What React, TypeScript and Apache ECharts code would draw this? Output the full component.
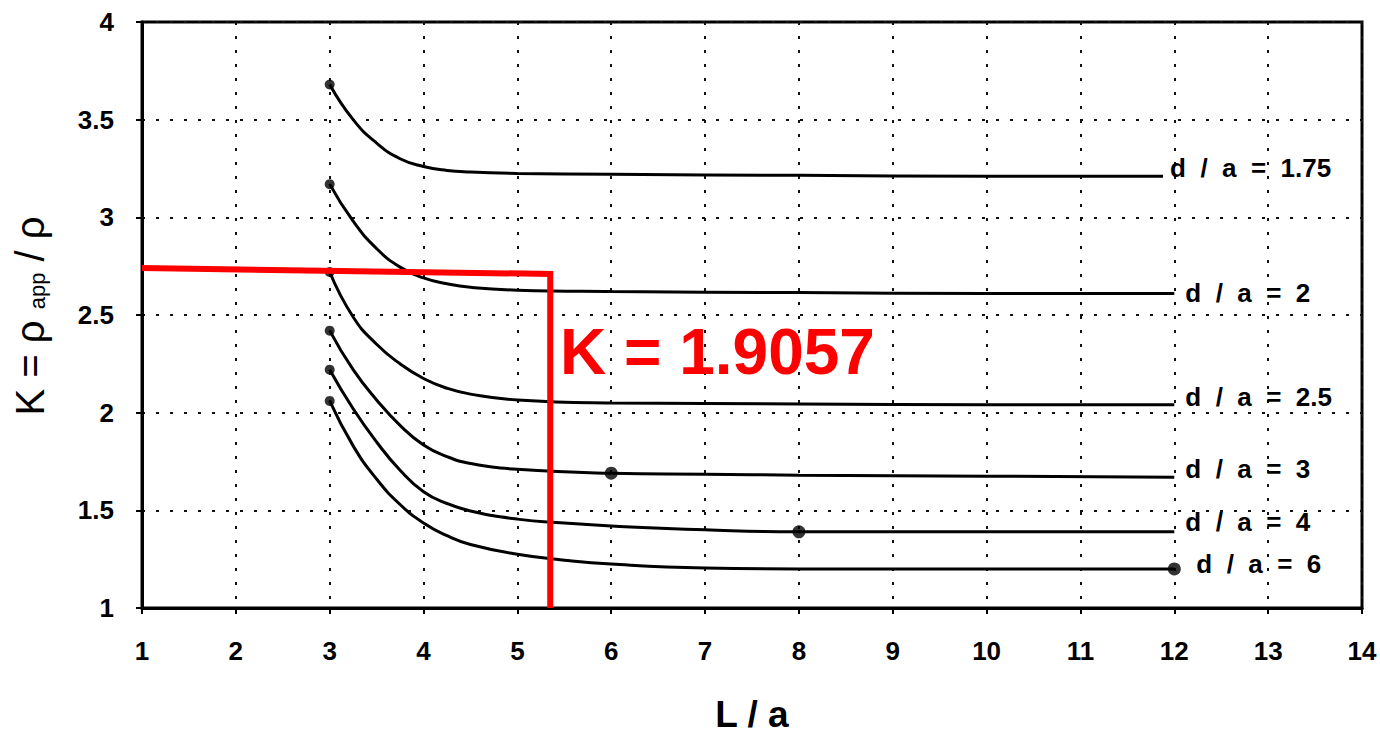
import React, { useEffect, useRef } from "react";
import * as echarts from "echarts";

// ---- data ----
const xTicks = { min: 1, max: 14, interval: 1 };
const yTicks = { min: 1, max: 4, interval: 0.5 };

const curveLabels = ["d  /  a  =  1.75", "d  /  a  =  2", "d  /  a  =  2.5", "d  /  a  =  3", "d  /  a  =  4", "d  /  a  =  6"];

const curve175 = [[3, 3.68], [3.25, 3.5], [3.5, 3.38], [3.75, 3.3], [4, 3.26], [4.25, 3.24], [4.5, 3.232], [5, 3.225], [6, 3.22], [8, 3.215], [10, 3.21], [11.88, 3.21]];
const curve2 = [[3, 3.17], [3.25, 2.98], [3.5, 2.84], [3.75, 2.745], [4, 2.69], [4.25, 2.66], [4.5, 2.642], [5, 2.627], [6, 2.62], [8, 2.615], [10, 2.61], [12, 2.61]];
const curve25 = [[3, 2.72], [3.25, 2.49], [3.5, 2.35], [3.75, 2.25], [4, 2.175], [4.25, 2.125], [4.5, 2.095], [5, 2.065], [6, 2.05], [8, 2.045], [10, 2.04], [12, 2.04]];
const curve3 = [[3, 2.42], [3.25, 2.22], [3.5, 2.065], [3.75, 1.935], [4, 1.835], [4.25, 1.775], [4.5, 1.74], [5, 1.71], [6, 1.69], [7, 1.685], [8, 1.68], [10, 1.675], [12, 1.67]];
const curve4 = [[3, 2.22], [3.25, 2.02], [3.5, 1.85], [3.75, 1.705], [4, 1.595], [4.25, 1.535], [4.5, 1.497], [5, 1.455], [5.5, 1.435], [6, 1.42], [7, 1.4], [8, 1.39], [10, 1.39], [12, 1.39]];
const curve6 = [[3, 2.06], [3.25, 1.83], [3.5, 1.66], [3.75, 1.53], [4, 1.435], [4.25, 1.37], [4.5, 1.325], [5, 1.275], [5.5, 1.245], [6, 1.225], [7, 1.205], [8, 1.2], [10, 1.2], [12, 1.2]];
const curves = [curve175, curve2, curve25, curve3, curve4, curve6];

const startDots = [[3, 3.68], [3, 3.17], [3, 2.72], [3, 2.42], [3, 2.22], [3, 2.06]];
const markerDots = [[6, 1.69], [8, 1.39], [12, 1.2]];

const redGuide = [[1, 2.74], [5.35, 2.71], [5.35, 1]];
const redText = "K = 1.9057";

// label placement (style)
const labelDistance = [7, 11, 11, 11, 11, 22];
const labelOffsetY = [-8, -1, -8, -8, -10, -5];

export default function App() {
  const ref = useRef<HTMLDivElement>(null);
  useEffect(() => {
    if (!ref.current) return;
    const chart = echarts.init(ref.current, null, { renderer: "svg" });
    const font = "'Liberation Sans', Arial, sans-serif";
    const lineSeries = curves.map((c, i) => ({
      type: "line",
      data: c,
      smooth: 0.5,
      showSymbol: false,
      symbol: "none",
      lineStyle: { color: "#000", width: 3 },
      endLabel: {
        show: true,
        formatter: curveLabels[i],
        distance: labelDistance[i],
        offset: [0, labelOffsetY[i]],
        color: "#000",
        fontSize: 26,
        fontWeight: "bold",
        fontFamily: font,
      },
      z: 3,
    }));
    chart.setOption({
      animation: false,
      backgroundColor: "#fff",
      grid: {
        left: 142, right: 18, top: 22, bottom: 126,
        show: true, borderColor: "#000", borderWidth: 3, backgroundColor: "transparent",
      },
      xAxis: {
        type: "value",
        min: xTicks.min, max: xTicks.max, interval: xTicks.interval,
        name: "L / a",
        nameLocation: "middle",
        nameGap: 88,
        nameTextStyle: { fontSize: 37, fontWeight: "bold", color: "#000", fontFamily: font },
        axisLine: { show: true, onZero: false, lineStyle: { color: "#000", width: 3 } },
        axisTick: { show: true, length: 6, lineStyle: { color: "#000", width: 2 } },
        axisLabel: { margin: 30, fontSize: 26, fontWeight: "bold", color: "#000", fontFamily: font },
        splitLine: { show: true, lineStyle: { color: "#111", width: 2, type: [3, 11] } },
      },
      yAxis: {
        type: "value",
        min: yTicks.min, max: yTicks.max, interval: yTicks.interval,
        axisLine: { show: true, onZero: false, lineStyle: { color: "#000", width: 3 } },
        axisTick: { show: true, length: 6, lineStyle: { color: "#000", width: 2 } },
        axisLabel: { margin: 28, fontSize: 26, fontWeight: "bold", color: "#000", fontFamily: font },
        splitLine: { show: true, lineStyle: { color: "#111", width: 2, type: [3, 11] } },
      },
      graphic: [
        {
          type: "text",
          x: 30,
          y: 316,
          rotation: Math.PI / 2,
          style: {
            text: "K = ρ {sub|app} / ρ",
            font: `40px ${font}`,
            fill: "#000",
            align: "center",
            verticalAlign: "middle",
            rich: { sub: { fontSize: 22, fontFamily: font, fill: "#000", padding: [14, 0, 0, 0] } },
          },
        },
        {
          type: "text",
          x: 560,
          y: 352,
          style: {
            text: redText,
            font: `bold 64px ${font}`,
            fill: "#ff0000",
            align: "left",
            verticalAlign: "middle",
          },
          z: 10,
        },
      ],
      series: [
        ...lineSeries,
        {
          type: "scatter",
          data: startDots,
          symbol: "circle",
          symbolSize: 10,
          itemStyle: { color: "#000" },
          z: 4,
        },
        {
          type: "scatter",
          data: markerDots,
          symbol: "circle",
          symbolSize: 13,
          itemStyle: { color: "#000" },
          z: 4,
        },
        {
          type: "line",
          data: redGuide,
          showSymbol: false,
          symbol: "none",
          lineStyle: { color: "#ff0000", width: 6, join: "miter" },
          z: 5,
        },
      ],
    });
    return () => chart.dispose();
  }, []);
  return (
    <div
      ref={ref}
      style={{ position: "fixed", left: 0, top: 0, width: 1380, height: 738, background: "#fff" }}
    />
  );
}
